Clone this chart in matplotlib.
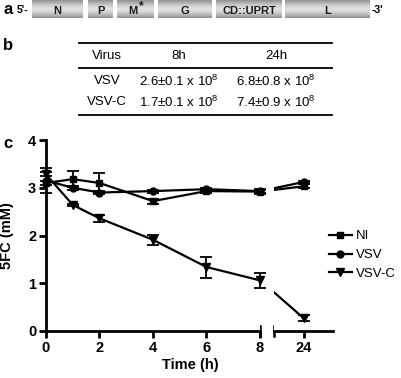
"""Composite figure: VSV genome map (a), titer table (b), 5FC consumption (c)."""
import matplotlib
matplotlib.use("Agg")
import matplotlib.pyplot as plt
import numpy as np
from matplotlib.lines import Line2D

plt.rcParams["font.family"] = ["Liberation Sans", "DejaVu Sans"]
plt.rcParams["mathtext.fontset"] = "custom"
plt.rcParams["mathtext.rm"] = "Liberation Sans"

# --- data ---
genes = ["N", "P", "M", "G", "CD::UPRT", "L"]
gene_px = [(32, 83), (88, 113), (117, 154), (158, 212), (216, 282), (285, 370)]

table_cols = ["Virus", "8h", "24h"]
table_rows = [
    ["VSV", r"2.6±0.1 x 10$^8$", r"6.8±0.8 x 10$^8$"],
    ["VSV-C", r"1.7±0.1 x 10$^8$", r"7.4±0.9 x 10$^8$"],
]

time_h = [0, 1, 2, 4, 6, 8]
ni = [3.10, 3.18, 3.10, 2.72, 2.93, 2.92]
ni_err = [0.22, 0.17, 0.21, 0.05, 0.04, 0.05]
vsv = [3.15, 3.00, 2.90, 2.93, 2.97, 2.93]
vsv_err = [0.10, 0.04, 0.04, 0.03, 0.03, 0.03]
vsvc = [3.28, 2.64, 2.36, 1.91, 1.34, 1.06]
vsvc_err = [0.14, 0.03, 0.07, 0.10, 0.22, 0.16]

late_t = 24
ni_24, ni_24_err = 3.03, 0.04
vsv_24, vsv_24_err = 3.12, 0.03
vsvc_24, vsvc_24_err = 0.27, 0.07

W, H = 401, 378
fig = plt.figure(figsize=(W / 100, H / 100), dpi=100)

# overlay in pixel coords for panels a and b
ov = fig.add_axes([0, 0, 1, 1])
ov.set_xlim(0, W)
ov.set_ylim(H, 0)
ov.axis("off")

# --- panel a ---
grad = 0.88 - 0.32 * np.abs(np.linspace(-1, 1, 64))[:, None] ** 1.5
for name, (x0, x1) in zip(genes, gene_px):
    ov.imshow(grad, cmap="gray", vmin=0, vmax=1, aspect="auto",
              extent=(x0, x1, 18.5, 1), zorder=1)
    cx = (x0 + x1) / 2 - (3 if name == "M" else 0)
    ov.text(cx, 10.5, name, ha="center", va="center",
            fontsize=8, fontweight="bold", color="#1a1a1a", zorder=2)
ov.text(138.5, 6.5, "*", ha="left", va="center", fontsize=8.5,
        fontweight="bold", color="#1a1a1a", zorder=2)
ov.text(3, 10, "a", fontsize=12, fontweight="bold", va="center")
ov.text(17, 10, "5'-", fontsize=7.5, fontweight="bold", va="center")
ov.text(372, 10, "-3'", fontsize=7.5, fontweight="bold", va="center")

# --- panel b ---
ov.text(3, 45, "b", fontsize=12, fontweight="bold", va="center")
col_x = [107, 179, 276]
for y in (43, 67.5, 115):
    ov.plot([79, 332], [y, y], color="black", lw=1.3)
for cx, lab in zip(col_x, table_cols):
    ov.text(cx, 56, lab, ha="center", va="center", fontsize=9.5)
for row, ry in zip(table_rows, (81, 102)):
    for cx, lab in zip(col_x, row):
        ov.text(cx, ry, lab, ha="center", va="center", fontsize=9.5)

# --- panel c ---
ov.text(3, 144, "c", fontsize=12, fontweight="bold", va="center")

ax = fig.add_axes([46 / W, 1 - 331 / H, (260 - 46) / W, (331 - 140) / H])
ax2 = fig.add_axes([274 / W, 1 - 331 / H, (333 - 274) / W, (331 - 140) / H])

styles = [
    ("NI", ni, ni_err, ni_24, ni_24_err, "s", 4.5),
    ("VSV", vsv, vsv_err, vsv_24, vsv_24_err, "o", 5),
    ("VSV-C", vsvc, vsvc_err, vsvc_24, vsvc_24_err, "v", 5.5),
]
x8_in_ax2 = 21.08  # where the 8h point sits on the right axis scale
for label, y, e, y24, e24, mk, ms in styles:
    ax.errorbar(time_h, y, yerr=e, color="black", lw=1.6, marker=mk, ms=ms,
                capsize=4, elinewidth=1.3, capthick=1.3, clip_on=False)
    ax2.plot([x8_in_ax2, late_t], [y[-1], y24], color="black", lw=1.6)
    ax2.errorbar([late_t], [y24], yerr=[e24], color="black", marker=mk,
                 ms=ms, capsize=4, elinewidth=1.3, capthick=1.3,
                 clip_on=False)

for a in (ax, ax2):
    a.set_ylim(0, 4)
    a.spines["top"].set_visible(False)
    a.spines["right"].set_visible(False)
    a.spines["bottom"].set_linewidth(2)
    a.spines["left"].set_linewidth(2)
    a.tick_params(width=2, length=5, labelsize=10.5, pad=2)

ax.set_xlim(0, 8)
ax.set_xticks([0, 2, 4, 6, 8])
ax.set_yticks([0, 1, 2, 3, 4])
ax.set_ylabel("5FC (mM)", fontsize=10.5, fontweight="bold", labelpad=10)
for t in ax.get_xticklabels() + ax.get_yticklabels():
    t.set_fontweight("bold")

ax2.set_xlim(24 - 2, 24 + 2)
ax2.set_xticks([late_t])
ax2.spines["left"].set_visible(False)
ax2.set_yticks([])
for t in ax2.get_xticklabels():
    t.set_fontweight("bold")

# break caps
ov.plot([260, 260], [326, 336], color="black", lw=1.8)
ov.plot([274, 274], [326, 336], color="black", lw=1.8)

fig.text(190 / W, 1 - 365 / H, "Time (h)", ha="center", va="center",
         fontsize=10.5, fontweight="bold")

handles = [Line2D([], [], color="black", lw=1.6, marker=m, ms=s)
           for _, _, _, _, _, m, s in styles]
fig.legend(handles, [s[0] for s in styles], loc="center left",
           bbox_to_anchor=(322 / W, 1 - 255 / H), frameon=False,
           fontsize=9.5, handlelength=1.8, handletextpad=0.3,
           labelspacing=0.5, borderpad=0)

fig.savefig("out.png", dpi=100, facecolor="white")
